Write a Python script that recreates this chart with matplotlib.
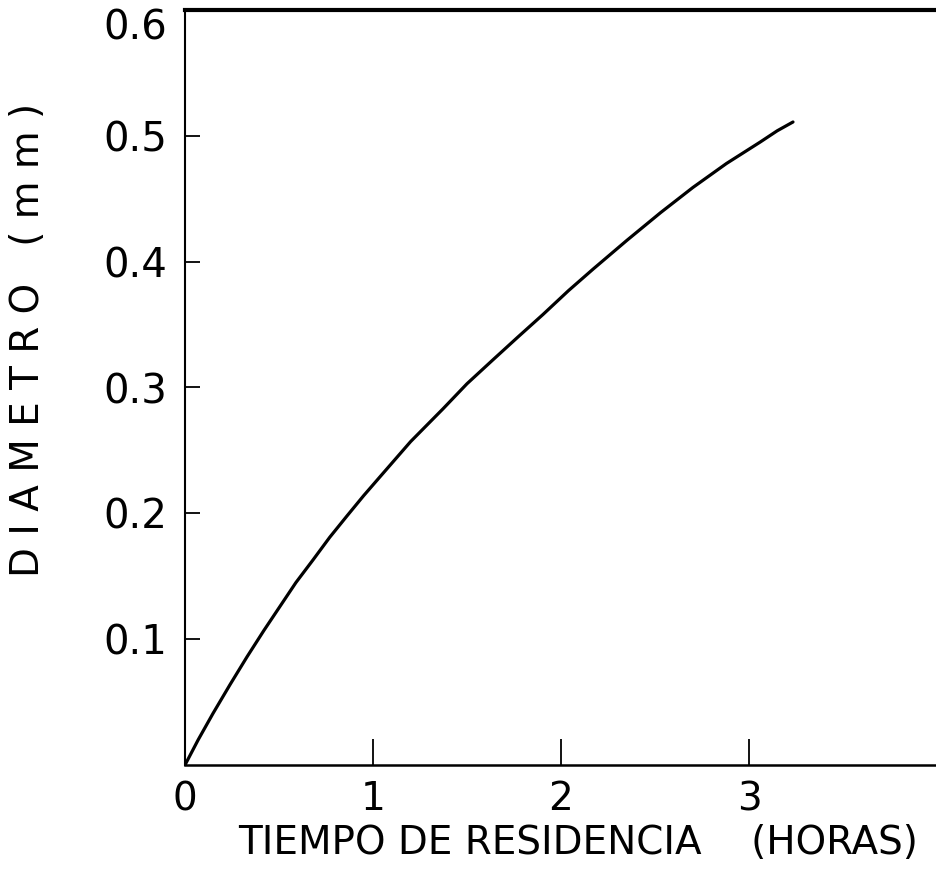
import numpy as np
import matplotlib
matplotlib.use("Agg")
import matplotlib.pyplot as plt
from matplotlib.transforms import ScaledTranslation

# datos
tiempo = [0.0, 0.07, 0.149, 0.24, 0.330, 0.42, 0.505, 0.59, 0.681, 0.77,
          0.862, 0.95, 1.037, 1.2, 1.372, 1.5, 1.638, 1.77, 1.904, 2.04,
          2.170, 2.351, 2.53, 2.702, 2.88, 3.059, 3.15, 3.234]
diametro = [0.0, 0.020, 0.041, 0.064, 0.086, 0.107, 0.126, 0.145, 0.163, 0.181,
            0.198, 0.214, 0.229, 0.257, 0.283, 0.303, 0.322, 0.340, 0.358, 0.377,
            0.394, 0.417, 0.439, 0.459, 0.478, 0.495, 0.504, 0.511]

xticks = [0, 1, 2, 3]
yticks = [0.1, 0.2, 0.3, 0.4, 0.5, 0.6]

fig = plt.figure(figsize=(9.37, 8.72), dpi=100)
ax = fig.add_axes([185 / 937, 107 / 872, 752 / 937, 755 / 872])

ax.plot(tiempo, diametro, color='black', lw=2.3, solid_capstyle='round', solid_joinstyle='round')

ax.set_xlim(0, 4)
ax.set_ylim(0, 0.6)
ax.set_xticks(xticks)
ax.set_yticks(yticks)
ax.set_xticklabels([str(t) for t in xticks], fontsize=28)
ax.set_yticklabels([f'{t:.1f}' for t in yticks], fontsize=29)

ax.tick_params(axis='x', direction='in', length=19, width=1.3, pad=11)
ax.tick_params(axis='y', direction='in', length=11, width=1.3, pad=13)
ax.yaxis.get_major_ticks()[-1].tick1line.set_visible(False)
# bajar un poco la etiqueta 0.6 para que no quede cortada
lab = ax.get_yticklabels()[-1]
lab.set_transform(lab.get_transform() + ScaledTranslation(0, -14 / 100, fig.dpi_scale_trans))

ax.spines['right'].set_visible(False)
ax.spines['left'].set_linewidth(1.5)
ax.spines['bottom'].set_linewidth(1.8)
ax.spines['top'].set_linewidth(3)

ax.set_xlabel('TIEMPO DE RESIDENCIA    (HORAS)', fontsize=28)
ax.xaxis.set_label_coords((578 - 185) / 752, -(843 - 765) / 755)
ax.xaxis.label.set_va('center')

fig.text(28 / 937, 1 - 340 / 872, 'D I A M E T R O   ( m m )', rotation=90,
         fontsize=28, ha='center', va='center')

fig.savefig('out.png', dpi=100)
